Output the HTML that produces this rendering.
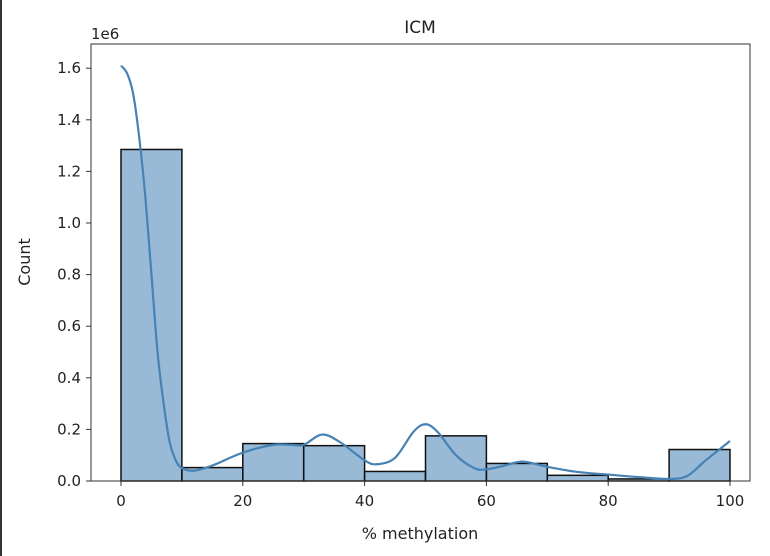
<!DOCTYPE html>
<html><head><meta charset="utf-8"><style>
body{margin:0;background:#fff;}
svg{display:block;font-family:"DejaVu Sans","Liberation Sans",sans-serif;}
</style></head><body>
<svg id="c" width="770" height="556">
<rect x="0" y="0" width="2" height="556" fill="#333"/>
<g id="bars"></g>
<path id="kde" fill="none" stroke="#4682b4" stroke-width="2.2"/>
<rect x="91" y="44" width="659" height="437" fill="none" stroke="#333" stroke-width="1"/>
<g id="xt"></g>
<g id="yt"></g>
<text x="420" y="33" font-size="17" text-anchor="middle" fill="#222">ICM</text>
<text x="420" y="539" font-size="16" text-anchor="middle" fill="#222">% methylation</text>
<text transform="translate(30,262) rotate(-90)" font-size="16" text-anchor="middle" fill="#222">Count</text>
<text x="91" y="39" font-size="15" fill="#222">1e6</text>
</svg>
<script>
const binEdges=[0,10,20,30,40,50,60,70,80,90,100];
const counts=[1.285,0.052,0.145,0.137,0.037,0.175,0.068,0.022,0.008,0.122];
const kdeX=[0,1,2,3,4,5,6,7,8,9,10,12,15,20,25,28,30,33,36,40,42,45,48,50,52,55,58,60,63,66,70,75,80,85,90,93,96,100];
const kdeY=[1.61,1.58,1.5,1.33,1.1,0.8,0.5,0.3,0.15,0.08,0.05,0.04,0.06,0.11,0.14,0.14,0.14,0.18,0.15,0.08,0.065,0.09,0.19,0.22,0.19,0.1,0.05,0.045,0.06,0.075,0.055,0.035,0.025,0.015,0.008,0.02,0.08,0.155];
const xTicks=[0,20,40,60,80,100];
const yTicks=[0,0.2,0.4,0.6,0.8,1.0,1.2,1.4,1.6];
const xs=v=>121+v*6.09, ys=v=>481-v*258;
const NS="http://www.w3.org/2000/svg";
const bars=document.getElementById('bars');
counts.forEach((c,i)=>{const r=document.createElementNS(NS,'rect');
r.setAttribute('x',xs(binEdges[i]));r.setAttribute('y',ys(c));
r.setAttribute('width',xs(binEdges[i+1])-xs(binEdges[i]));r.setAttribute('height',ys(0)-ys(c));
r.setAttribute('fill','rgba(70,130,180,0.55)');r.setAttribute('stroke','#111');r.setAttribute('stroke-width','1.5');


bars.appendChild(r);});
let p=[];for(let i=0;i<kdeX.length;i++){p.push([xs(kdeX[i]),ys(kdeY[i])]);}
let d='M'+p[0][0]+','+p[0][1];
for(let i=0;i<p.length-1;i++){const p0=p[Math.max(i-1,0)],p1=p[i],p2=p[i+1],p3=p[Math.min(i+2,p.length-1)];
d+=` C${p1[0]+(p2[0]-p0[0])/6},${p1[1]+(p2[1]-p0[1])/6} ${p2[0]-(p3[0]-p1[0])/6},${p2[1]-(p3[1]-p1[1])/6} ${p2[0]},${p2[1]}`;}
document.getElementById('kde').setAttribute('d',d);
const xt=document.getElementById('xt');
xTicks.forEach(t=>{const l=document.createElementNS(NS,'line');l.setAttribute('x1',xs(t));l.setAttribute('x2',xs(t));l.setAttribute('y1',481);l.setAttribute('y2',486);l.setAttribute('stroke','#333');


xt.appendChild(l);
const tx=document.createElementNS(NS,'text');tx.setAttribute('x',xs(t));tx.setAttribute('y',506);tx.setAttribute('text-anchor','middle');tx.setAttribute('font-size','15');tx.setAttribute('fill','#222');tx.textContent=t;


xt.appendChild(tx);});
const yt=document.getElementById('yt');
yTicks.forEach(t=>{const l=document.createElementNS(NS,'line');l.setAttribute('x1',86);l.setAttribute('x2',91);l.setAttribute('y1',ys(t));l.setAttribute('y2',ys(t));l.setAttribute('stroke','#333');


yt.appendChild(l);
const tx=document.createElementNS(NS,'text');tx.setAttribute('x',81);tx.setAttribute('y',ys(t)+5);tx.setAttribute('text-anchor','end');tx.setAttribute('font-size','15');tx.setAttribute('fill','#222');tx.textContent=t.toFixed(1);


yt.appendChild(tx);});
</script>
</body></html>
